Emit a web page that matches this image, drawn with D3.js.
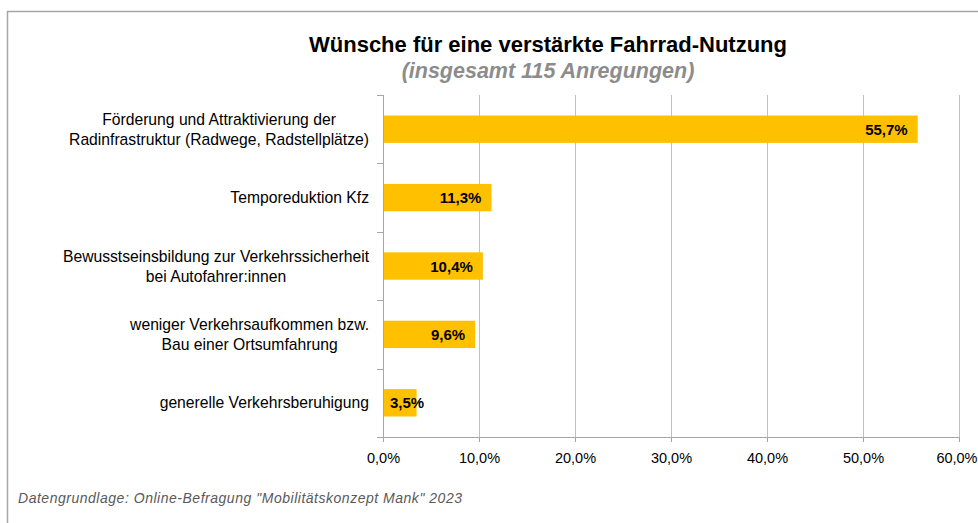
<!DOCTYPE html>
<html><head><meta charset="utf-8">
<script src="https://cdn.jsdelivr.net/npm/d3@7"></script>
<style>body{margin:0;background:#fff}svg{display:block}</style>
</head><body>
<script>
const categories = [
  ["Förderung und Attraktivierung der", "Radinfrastruktur (Radwege, Radstellplätze)"],
  ["Temporeduktion Kfz"],
  ["Bewusstseinsbildung zur Verkehrssicherheit", "bei Autofahrer:innen"],
  ["weniger Verkehrsaufkommen bzw.", "Bau einer Ortsumfahrung"],
  ["generelle Verkehrsberuhigung"]
];
const values = [55.7, 11.3, 10.4, 9.6, 3.5];
const xTicks = [0, 10, 20, 30, 40, 50, 60];
const titleText = "Wünsche für eine verstärkte Fahrrad-Nutzung";
const subtitleText = "(insgesamt 115 Anregungen)";
const footerText = "Datengrundlage: Online-Befragung \"Mobilitätskonzept Mank\" 2023";

const W = 978, H = 523;
const fmt = v => v.toFixed(1).replace(".", ",") + "%";
const svg = d3.select("body").append("svg").attr("width", W).attr("height", H);
const font = "'Liberation Sans', Arial, sans-serif";

svg.append("path").attr("d", `M7.5,${H+2} V11.5 H${W+2}`)
  .attr("fill", "none").attr("stroke", "#a6a6a6").attr("stroke-width", 1.5);

const x0 = 383, x1 = 959, y0 = 95, y1 = 437;
const x = d3.scaleLinear().domain([0, 60]).range([x0, x1]);
const y = d3.scaleBand().domain(d3.range(categories.length)).range([y0, y1]).paddingInner(0.6).paddingOuter(0.3);
const band = d3.scaleBand().domain(d3.range(categories.length)).range([y0, y1]);

// gridlines
svg.append("g").selectAll("line").data(xTicks.slice(1)).join("line")
  .attr("x1", d => x(d) + 0.5).attr("x2", d => x(d) + 0.5)
  .attr("y1", y0).attr("y2", y1)
  .attr("stroke", "#c0c0c0").attr("stroke-width", 1);

// bars
svg.append("g").selectAll("rect").data(values).join("rect")
  .attr("x", x(0)).attr("y", (d, i) => y(i))
  .attr("width", d => x(d) - x(0)).attr("height", y.bandwidth())
  .attr("fill", "#FFC000");

// y axis
const yAxis = svg.append("g");
yAxis.append("line").attr("x1", x0 + 0.5).attr("x2", x0 + 0.5).attr("y1", y0).attr("y2", y1)
  .attr("stroke", "#a6a6a6");
const bounds = d3.range(categories.length + 1).map(i => i < categories.length ? band(i) : y1);
yAxis.selectAll("line.t").data(bounds).join("line").attr("class", "t")
  .attr("x1", x0 - 6).attr("x2", x0).attr("y1", d => Math.round(d) + 0.5).attr("y2", d => Math.round(d) + 0.5)
  .attr("stroke", "#a6a6a6");

// x axis
const xAxisG = svg.append("g").attr("transform", `translate(0,${y1})`)
  .call(d3.axisBottom(x).tickValues(xTicks).tickFormat(fmt).tickSize(5).tickPadding(11));
xAxisG.select(".domain").attr("stroke", "#a6a6a6").attr("d", `M${x0-6},0.5H${x1+1}`);
xAxisG.selectAll(".tick line").attr("stroke", "#a6a6a6");
xAxisG.selectAll(".tick text").attr("font-family", font).attr("font-size", 14.5).attr("fill", "#000");
// keep last tick label inside the picture
xAxisG.selectAll(".tick").filter(d => d === xTicks[xTicks.length - 1]).select("text")
  .attr("text-anchor", "end").attr("x", W - 1 - x(xTicks[xTicks.length - 1]));

// category labels
const catG = svg.append("g");
categories.forEach((lines, i) => {
  const cy = band(i) + band.bandwidth() / 2;
  const lh = 20;
  const g = catG.append("g");
  const texts = lines.map((l, j) => g.append("text").text(l)
    .attr("font-family", font).attr("font-size", 15.7).attr("fill", "#000")
    .attr("text-anchor", "middle")
    .attr("y", cy + (j - (lines.length - 1) / 2) * lh + 5.5));
  const maxW = d3.max(texts, t => t.node().getComputedTextLength());
  texts.forEach(t => t.attr("x", 369 - maxW / 2));
});

// value labels
svg.append("g").selectAll("text").data(values).join("text")
  .text(d => fmt(d))
  .attr("font-family", font).attr("font-size", 15).attr("font-weight", "bold").attr("fill", "#000")
  .attr("text-anchor", "end")
  .attr("y", (d, i) => y(i) + y.bandwidth() / 2 + 5.5)
  .each(function(d) {
    const w = this.getComputedTextLength();
    d3.select(this).attr("x", Math.max(x(d) - 10, x0 + 7 + w));
  });

// titles
svg.append("text").text(titleText).attr("x", 548).attr("y", 52)
  .attr("text-anchor", "middle").attr("font-family", font).attr("font-size", 22)
  .attr("font-weight", "bold").attr("fill", "#000");
svg.append("text").text(subtitleText).attr("x", 548).attr("y", 78)
  .attr("text-anchor", "middle").attr("font-family", font).attr("font-size", 21.5)
  .attr("font-weight", "bold").attr("font-style", "italic").attr("fill", "#8c8c8c");

// footer
svg.append("text").text(footerText).attr("x", 18).attr("y", 503)
  .attr("font-family", "'Liberation Sans Narrow', 'Liberation Sans', sans-serif").attr("font-size", 14)
  .attr("font-style", "italic").attr("fill", "#595959").attr("textLength", 444);
</script>
</body></html>
